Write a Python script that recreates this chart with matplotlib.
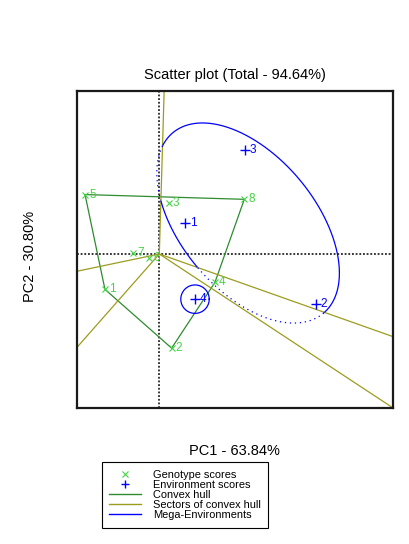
import numpy as np
import matplotlib
matplotlib.use("Agg")
import matplotlib.pyplot as plt
from matplotlib.lines import Line2D

plt.rcParams['font.family'] = ['Liberation Sans', 'DejaVu Sans']

# genotype scores (PC1, PC2)
gen_labels = ['1', '2', '3', '4', '5', '6', '7', '8']
gen_pc1 = [-1.72, 0.39, 0.30, 1.76, -2.35, -0.32, -0.84, 2.69]
gen_pc2 = [-1.12, -2.98, 1.60, -0.90, 1.88, -0.12, 0.02, 1.73]

# environment scores (PC1, PC2)
env_labels = ['1', '2', '3', '4']
env_pc1 = [0.81, 4.95, 2.70, 1.13]
env_pc2 = [0.97, -1.59, 3.29, -1.43]

# mega-environments: centre, semi-axes, rotation (deg)
me_cx = [2.81, 1.13]
me_cy = [0.98, -1.43]
me_a = [3.72, 0.45]
me_b = [2.13, 0.45]
me_angle = [-50.2, 0.0]

pc1_var = 63.84
pc2_var = 30.80

c_gen = '#44d444'
c_hull = '#2e8b2e'
c_sector = '#9c9c1f'
c_env = '#0000ff'

G = np.column_stack([gen_pc1, gen_pc2])
E = np.column_stack([env_pc1, env_pc2])


def convex_hull(pts):
    idx = sorted(range(len(pts)), key=lambda i: (pts[i][0], pts[i][1]))

    def cross(o, a, b):
        return (pts[a][0] - pts[o][0]) * (pts[b][1] - pts[o][1]) - (pts[a][1] - pts[o][1]) * (pts[b][0] - pts[o][0])
    lower, upper = [], []
    for i in idx:
        while len(lower) >= 2 and cross(lower[-2], lower[-1], i) <= 0:
            lower.pop()
        lower.append(i)
    for i in reversed(idx):
        while len(upper) >= 2 and cross(upper[-2], upper[-1], i) <= 0:
            upper.pop()
        upper.append(i)
    return lower[:-1] + upper[:-1]


fig = plt.figure(figsize=(4.09, 5.44), dpi=100)
ax = fig.add_axes([0.1883, 0.2506, 0.7733, 0.5816])
ax.set_xlim(-2.604, 7.405)
ax.set_ylim(-4.864, 5.149)
ax.set_xticks([])
ax.set_yticks([])
for s in ax.spines.values():
    s.set_linewidth(1.6)
    s.set_color('#1a1a1a')

ax.axhline(0, color='black', ls=(0, (1.2, 1.2)), lw=1.1, zorder=1)
ax.axvline(0, color='black', ls=(0, (1.2, 1.2)), lw=1.1, zorder=1)

# convex hull
hull = convex_hull(G)
hx = [G[i, 0] for i in hull] + [G[hull[0], 0]]
hy = [G[i, 1] for i in hull] + [G[hull[0], 1]]
ax.plot(hx, hy, color=c_hull, lw=0.9, zorder=2)

# sector lines: perpendicular from origin to each hull edge
for k in range(len(hull)):
    p, q = G[hull[k]], G[hull[(k + 1) % len(hull)]]
    d = q - p
    t = -np.dot(p, d) / np.dot(d, d)
    foot = p + t * d
    u = foot / np.linalg.norm(foot)
    ax.plot([0, u[0] * 30], [0, u[1] * 30], color=c_sector, lw=0.9, zorder=2)

# mega-environment ellipses: solid inside the winner's sector, dotted outside
tt = np.linspace(0, 2 * np.pi, 600)
for cx, cy, a, b, ang in zip(me_cx, me_cy, me_a, me_b, me_angle):
    th = np.radians(ang)
    ex = cx + a * np.cos(tt) * np.cos(th) - b * np.sin(tt) * np.sin(th)
    ey = cy + a * np.cos(tt) * np.sin(th) + b * np.sin(tt) * np.cos(th)
    winner = np.argmax(G @ np.array([cx, cy]))
    win_pts = np.argmax(G @ np.vstack([ex, ey]), axis=0)
    inside = win_pts == winner
    ax.plot(np.where(inside, ex, np.nan), np.where(inside, ey, np.nan),
            color=c_env, lw=0.9, zorder=3)
    ax.plot(np.where(~inside, ex, np.nan), np.where(~inside, ey, np.nan),
            color=c_env, lw=0.9, ls=(0, (1, 3)), zorder=3)

ax.plot(G[:, 0], G[:, 1], 'x', color=c_gen, ms=4.5, mew=0.8, zorder=4)
for lab, x, y in zip(gen_labels, gen_pc1, gen_pc2):
    ax.annotate(lab, (x, y), xytext=(3, 0), textcoords='offset points',
                color=c_gen, fontsize=8.5, va='center', ha='left', zorder=5)

ax.plot(E[:, 0], E[:, 1], '+', color=c_env, ms=7, mew=1.0, zorder=4)
for lab, x, y in zip(env_labels, env_pc1, env_pc2):
    ax.annotate(lab, (x, y), xytext=(3.5, 0), textcoords='offset points',
                color=c_env, fontsize=8.5, va='center', ha='left', zorder=5)

fig.text(235 / 409, 1 - 75 / 544, 'Scatter plot (Total - %.2f%%)' % (pc1_var + pc2_var),
         ha='center', va='center', fontsize=10.5)
fig.text(234 / 409, 1 - 451 / 544, 'PC1 - %.2f%%' % pc1_var,
         ha='center', va='center', fontsize=10.5)
fig.text(30 / 409, 1 - 256 / 544, 'PC2 - %.2f%%' % pc2_var,
         ha='center', va='center', rotation=90, fontsize=10.5)

handles = [
    Line2D([], [], marker='x', ls='none', color=c_gen, ms=4, mew=0.8),
    Line2D([], [], marker='+', ls='none', color=c_env, ms=6, mew=1.0),
    Line2D([], [], color=c_hull, lw=1),
    Line2D([], [], color=c_sector, lw=1),
    Line2D([], [], color=c_env, lw=1),
]
labels = ['Genotype scores', 'Environment scores', 'Convex hull',
          'Sectors of convex hull', 'Mega-Environments']
leg = fig.legend(handles, labels, loc='upper left',
                 bbox_to_anchor=(101.7 / 409, 1 - 462.3 / 544),
                 fontsize=7.9, frameon=True, fancybox=False, framealpha=1,
                 edgecolor='black', handlelength=2.9, handletextpad=1.05,
                 labelspacing=0.0, borderpad=0.7, borderaxespad=0)
leg.get_frame().set_linewidth(0.8)

fig.savefig('out.png', dpi=100)
